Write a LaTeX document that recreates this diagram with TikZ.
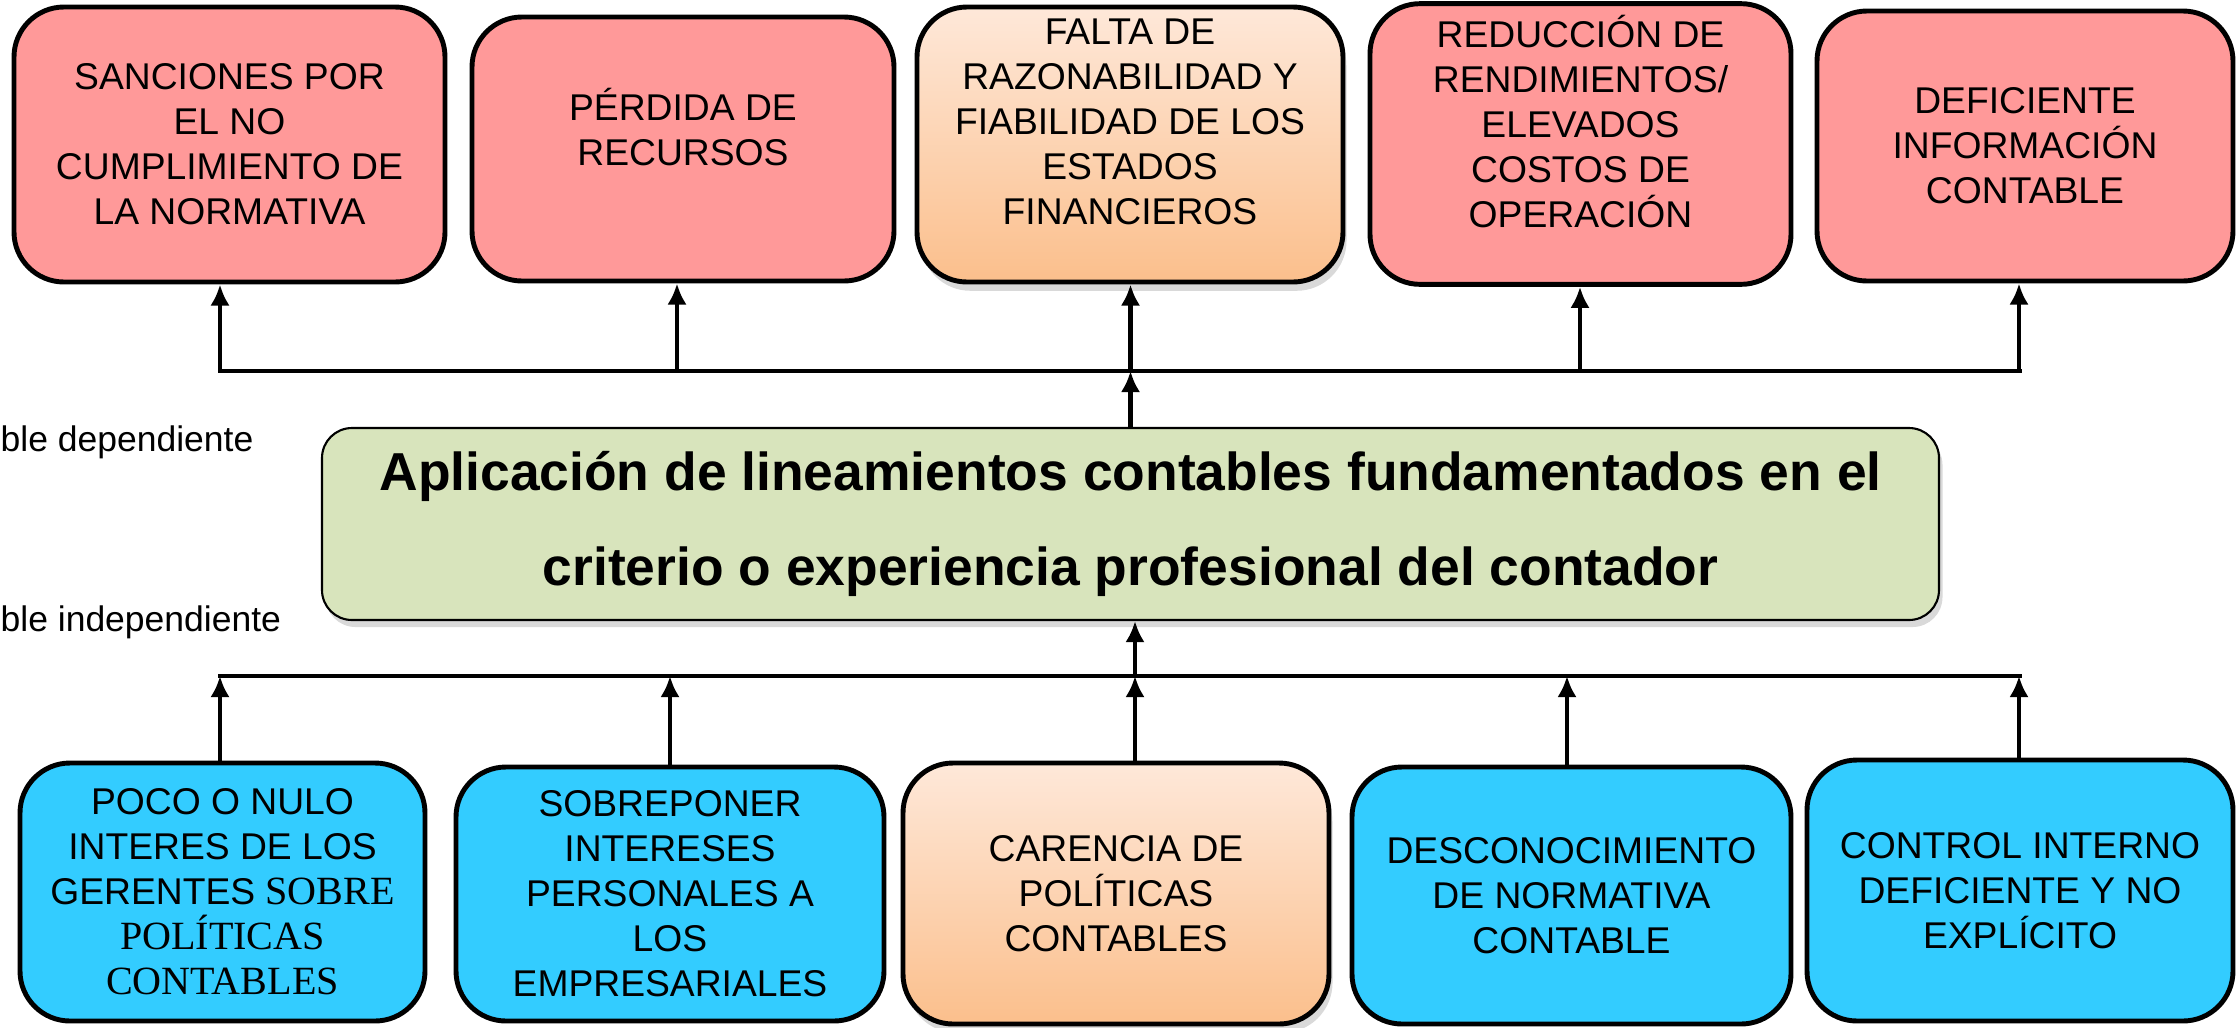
\documentclass[tikz,border=0pt]{standalone}
\usepackage{fontspec}
\setmainfont{Liberation Sans}
\newfontfamily\romana{Liberation Serif}
\usetikzlibrary{positioning}
\usetikzlibrary{arrows.meta}
\usetikzlibrary{shadows}
\definecolor{rosa}{HTML}{FF9999}
\definecolor{celeste}{HTML}{33CCFF}
\definecolor{naranjaA}{HTML}{FEE8D9}
\definecolor{naranjaB}{HTML}{FBBF8C}
\definecolor{verde}{HTML}{D8E4BC}
\tikzset{
caja/.style={
draw,
line width=1.4pt,
rounded corners=0.5cm,
align=center,
font=\fontsize{10.6}{12.8}\selectfont},
efecto/.style={caja, fill=rosa},
causa/.style={caja, fill=celeste},
nucleo/.style={caja,
top color=naranjaA,
bottom color=naranjaB,
drop shadow={opacity=0.3, shadow xshift=1pt, shadow yshift=-2.5pt}},
flecha/.style={-{Latex[length=6pt,width=5.5pt]}, line width=1.2pt},
barra/.style={line width=1.2pt}}

\begin{document}
\begin{tikzpicture}
\useasboundingbox (0,0) rectangle (22.36,-10.27);
% efectos
\node[efecto, minimum width=4.31cm, minimum height=2.75cm] (e1) at (2.295,-1.445) {SANCIONES POR\\EL NO\\CUMPLIMIENTO DE\\LA NORMATIVA};
\node[efecto, minimum width=4.22cm, minimum height=2.64cm] (e2) at (6.83,-1.49) {PÉRDIDA DE\\RECURSOS\\ \mbox{}};
\node[nucleo, minimum width=4.26cm, minimum height=2.75cm] (e3) at (11.30,-1.445) {FALTA DE\\RAZONABILIDAD Y\\FIABILIDAD DE LOS\\ESTADOS\\FINANCIEROS\\ \mbox{}};
\node[efecto, minimum width=4.21cm, minimum height=2.80cm] (e4) at (15.805,-1.44) {REDUCCIÓN DE\\RENDIMIENTOS/\\ELEVADOS\\COSTOS DE\\OPERACIÓN\\ \mbox{}};
\node[efecto, minimum width=4.16cm, minimum height=2.70cm] (e5) at (20.25,-1.46) {DEFICIENTE\\INFORMACIÓN\\CONTABLE};
% problema
\node[draw, line width=0.6pt, rounded corners=0.3cm, fill=verde,
minimum width=16.17cm, minimum height=1.92cm, align=center,
font=\bfseries\fontsize{15.2}{27}\selectfont,
drop shadow={opacity=0.3, shadow xshift=1pt, shadow yshift=-2pt}] (prob) at (11.305,-5.24)
{Aplicación de lineamientos contables fundamentados en el\\criterio o experiencia profesional del contador};
\node[anchor=west, inner sep=0pt, font=\fontsize{10.1}{12}\selectfont] (vdep) at (0,-4.42) {ble dependiente};
\node[anchor=west, inner sep=0pt, font=\fontsize{10.1}{12}\selectfont] (vind) at (0,-6.22) {ble independiente};
% causas
\node[causa, minimum width=4.05cm, minimum height=2.58cm] (k1) at (2.225,-8.92) {POCO O NULO\\INTERES DE LOS\\GERENTES {\romana\fontsize{11.4}{12.8}\selectfont SOBRE}\\{\romana\fontsize{11.4}{12.8}\selectfont POLÍTICAS}\\{\romana\fontsize{11.4}{12.8}\selectfont CONTABLES}};
\node[causa, minimum width=4.28cm, minimum height=2.54cm] (k2) at (6.70,-8.94) {SOBREPONER\\INTERESES\\PERSONALES A\\LOS\\EMPRESARIALES};
\node[nucleo, minimum width=4.26cm, minimum height=2.61cm] (k3) at (11.16,-8.935) {CARENCIA DE\\POLÍTICAS\\CONTABLES};
\node[causa, minimum width=4.39cm, minimum height=2.57cm] (k4) at (15.715,-8.955) {DESCONOCIMIENTO\\DE NORMATIVA\\CONTABLE};
\node[causa, minimum width=4.26cm, minimum height=2.61cm] (k5) at (20.20,-8.905) {CONTROL INTERNO\\DEFICIENTE Y NO\\EXPLÍCITO};
% barras
\coordinate (bsupI) at (2.18,-3.71);
\coordinate (bsupD) at (20.22,-3.71);
\coordinate (binfI) at (2.18,-6.76);
\coordinate (binfD) at (20.22,-6.76);
\draw[barra] (bsupI) -- (bsupD);
\draw[barra] (binfI) -- (binfD);
\coordinate (s1) at (2.20,-3.71);
\coordinate (s2) at (6.77,-3.71);
\coordinate (s3) at (11.305,-3.71);
\coordinate (s4) at (15.80,-3.71);
\coordinate (s5) at (20.19,-3.71);
\coordinate (i1) at (2.20,-6.76);
\coordinate (i2) at (6.70,-6.76);
\coordinate (i3) at (11.35,-6.76);
\coordinate (i4) at (15.67,-6.76);
\coordinate (i5) at (20.19,-6.76);
\draw[flecha] (s1) -- (s1 |- e1.south);
\draw[flecha] (s2) -- (s2 |- e2.south);
\draw[flecha] (s3) -- (s3 |- e3.south);
\draw[flecha] (prob.north) -- (s3);
\draw[flecha] (s4) -- (s4 |- e4.south);
\draw[flecha] (s5) -- (s5 |- e5.south);
\draw[flecha] (i1 |- k1.north) -- (i1);
\draw[flecha] (i2 |- k2.north) -- (i2);
\draw[flecha] (i3 |- k3.north) -- (i3);
\draw[flecha] (i3) -- (i3 |- prob.south);
\draw[flecha] (i4 |- k4.north) -- (i4);
\draw[flecha] (i5 |- k5.north) -- (i5);
\end{tikzpicture}
\end{document}
